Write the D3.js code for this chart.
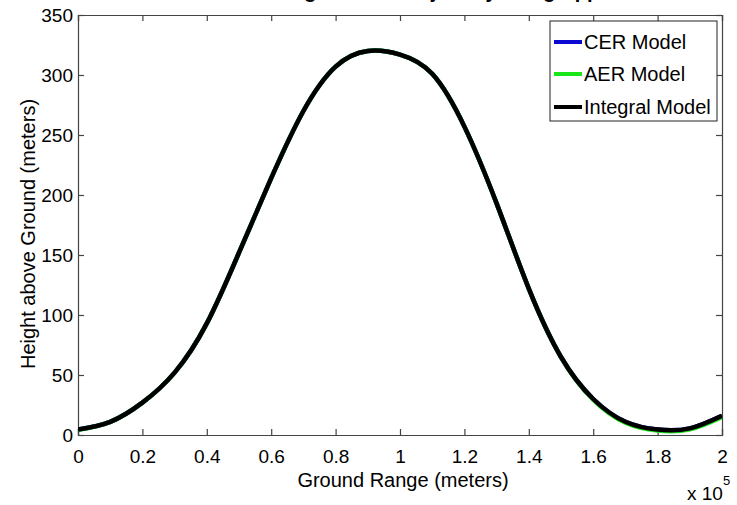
<!DOCTYPE html>
<html>
<head>
<meta charset="utf-8">
<script src="https://cdn.jsdelivr.net/npm/d3@7"></script>
<style>
  html, body { margin: 0; padding: 0; background: #fff; }
  svg { display: block; font-family: "Liberation Sans", Arial, sans-serif; }
</style>
</head>
<body>
<svg id="chart" width="737" height="505"></svg>
<script>
// ---- data ----
const groundRange = [0, 10000, 20000, 30000, 40000, 50000, 60000, 70000, 80000, 90000, 100000, 110000, 120000, 130000, 140000, 150000, 160000, 170000, 180000, 190000, 200000];
const cerHeight = [4.5, 11, 27, 52, 93, 152, 214, 270, 307, 320, 317, 301, 257, 193, 122, 65, 30, 11, 4.5, 5.5, 16];
const aerHeight = [4.3, 11, 27, 52, 93, 152, 214, 270, 307, 320, 317, 301, 257, 193, 122, 65, 29.5, 10.3, 3.8, 4.7, 15];
const integralHeight = [4.5, 11, 27, 52, 93, 152, 214, 270, 307, 320, 317, 301, 257, 193, 122, 65, 30, 11, 4.5, 5.5, 16];
const seriesNames = ["CER Model", "AER Model", "Integral Model"];
const seriesColors = ["#0a0ad0", "#19e619", "#000000"];
const xTicks = [0, 20000, 40000, 60000, 80000, 100000, 120000, 140000, 160000, 180000, 200000];
const yTicks = [0, 50, 100, 150, 200, 250, 300, 350];
const titleText = "Height above Ground vs. Ground Range for the Trajectory using Approach";

const svg = d3.select("#chart");
const m = { left: 78, right: 722, top: 15, bottom: 435 };

const x = d3.scaleLinear().domain([0, 200000]).range([m.left, m.right]);
const y = d3.scaleLinear().domain([0, 350]).range([m.bottom, m.top]);

// title (cut off at top in reference)
svg.append("text")
  .attr("x", 300).attr("y", -2)
  .attr("text-anchor", "middle")
  .style("font-size", "20px").style("font-weight", "bold")
  .text(titleText);

// axes
const axisColor = "#444";
const fmtX = d => d3.format("~g")(d / 1e5);

const gBottom = svg.append("g").attr("transform", `translate(0,${m.bottom})`)
  .call(d3.axisBottom(x).tickValues(xTicks).tickSize(-6).tickPadding(15).tickFormat(fmtX));
const gTop = svg.append("g").attr("transform", `translate(0,${m.top})`)
  .call(d3.axisTop(x).tickValues(xTicks).tickSize(-6).tickFormat(""));
const gLeft = svg.append("g").attr("transform", `translate(${m.left},0)`)
  .call(d3.axisLeft(y).tickValues(yTicks).tickSize(-6).tickPadding(5));
const gRight = svg.append("g").attr("transform", `translate(${m.right},0)`)
  .call(d3.axisRight(y).tickValues(yTicks).tickSize(-6).tickFormat(""));

[gBottom, gTop, gLeft, gRight].forEach(g => {
  g.select(".domain").attr("stroke", axisColor).attr("stroke-width", 1.2);
  g.selectAll(".tick line").attr("stroke", axisColor).attr("stroke-width", 1.2);
  g.selectAll(".tick text").attr("fill", "#000").style("font-size", "19px").style("font-family", "Liberation Sans, Arial, sans-serif");
});
gBottom.selectAll(".tick text").attr("dy", "0.71em");
gLeft.selectAll(".tick text").attr("dy", "0.36em");

// axis labels
svg.append("text")
  .attr("x", 403).attr("y", 487)
  .attr("text-anchor", "middle")
  .style("font-size", "20px")
  .text("Ground Range (meters)");

svg.append("text")
  .attr("transform", `translate(35,${234}) rotate(-90)`)
  .attr("text-anchor", "middle")
  .style("font-size", "20px")
  .text("Height above Ground (meters)");

// exponent
const exp = svg.append("text").attr("x", 687).attr("y", 500).style("font-size", "19px");
exp.append("tspan").text("x 10");
exp.append("tspan").attr("dy", -15).style("font-size", "13px").text("5");

// lines
const seriesData = [cerHeight, aerHeight, integralHeight];
const line = d3.line()
  .x((d, i) => x(groundRange[i]))
  .y(d => y(d))
  .curve(d3.curveNatural);

svg.append("clipPath").attr("id", "plotclip")
  .append("rect").attr("x", m.left).attr("y", m.top)
  .attr("width", m.right - m.left).attr("height", m.bottom - m.top);

svg.append("g").attr("clip-path", "url(#plotclip)")
  .selectAll("path.series")
  .data(seriesData)
  .join("path")
  .attr("class", "series")
  .attr("fill", "none")
  .attr("stroke", (d, i) => seriesColors[i])
  .attr("stroke-width", 4.5)
  .attr("stroke-linejoin", "round")
  .attr("d", d => line(d));

// legend
const lg = svg.append("g");
lg.append("rect")
  .attr("x", 550).attr("y", 21).attr("width", 167).attr("height", 100)
  .attr("fill", "#fff").attr("stroke", "#222").attr("stroke-width", 1);
const legendY = [42, 74, 107];
seriesNames.forEach((name, i) => {
  lg.append("line")
    .attr("x1", 554).attr("x2", 582)
    .attr("y1", legendY[i]).attr("y2", legendY[i])
    .attr("stroke", seriesColors[i]).attr("stroke-width", 4);
  lg.append("text")
    .attr("x", 584).attr("y", legendY[i]).attr("dy", "0.36em")
    .style("font-size", "20px")
    .text(name);
});
</script>
</body>
</html>
